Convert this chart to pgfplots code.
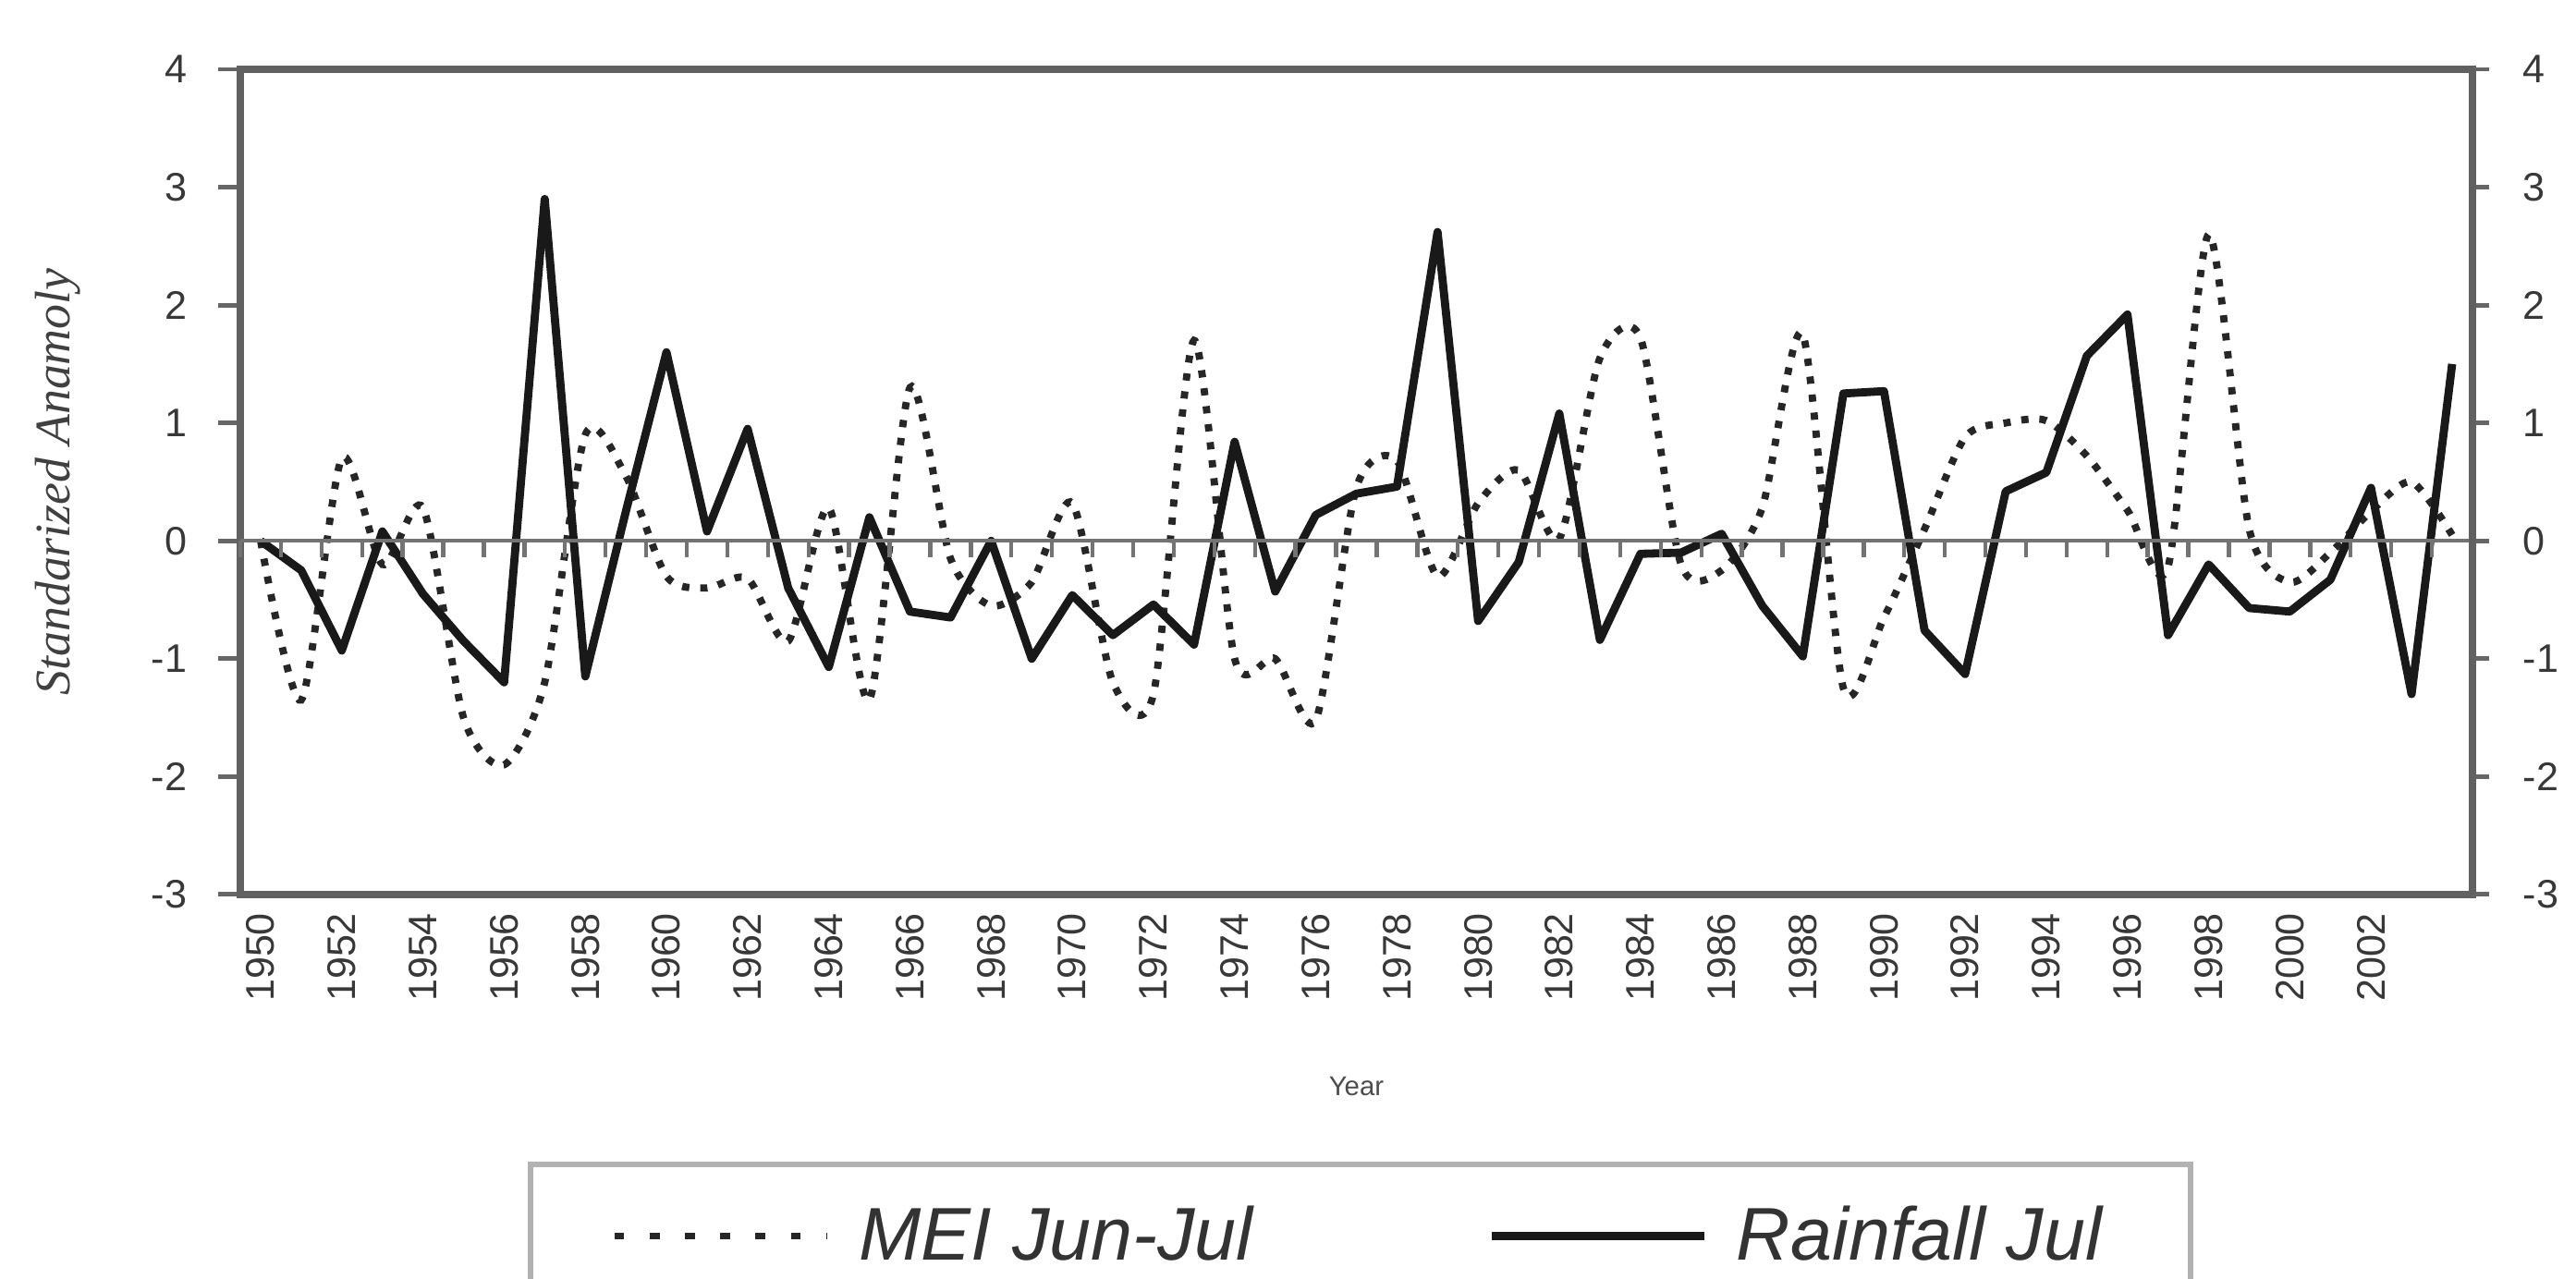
\documentclass[border=0pt]{standalone}
\usepackage{pgfplots}
\pgfplotsset{compat=1.18}
\usepackage{pgfplotstable}
\usepackage{fontspec}
\setmainfont{Liberation Sans}
\newfontfamily\serifit{Liberation Serif}

\pgfplotstableread{
year val
1950 0.0
1951 -1.35
1952 0.70
1953 -0.20
1954 0.28
1955 -1.50
1956 -1.90
1957 -1.20
1958 0.90
1959 0.55
1960 -0.30
1961 -0.40
1962 -0.32
1963 -0.85
1964 0.28
1965 -1.35
1966 1.30
1967 -0.15
1968 -0.55
1969 -0.35
1970 0.32
1971 -1.20
1972 -1.30
1973 1.70
1974 -1.00
1975 -1.00
1976 -1.52
1977 0.45
1978 0.68
1979 -0.30
1980 0.32
1981 0.60
1982 0.02
1983 1.55
1984 1.72
1985 -0.20
1986 -0.25
1987 0.28
1988 1.75
1989 -1.25
1990 -0.65
1991 0.10
1992 0.88
1993 1.00
1994 1.02
1995 0.72
1996 0.26
1997 -0.22
1998 2.60
1999 0.10
2000 -0.35
2001 -0.10
2002 0.25
2003 0.50
2004 0.05
}\mei

\pgfplotstableread{
year val
1950 0.0
1951 -0.25
1952 -0.93
1953 0.08
1954 -0.45
1955 -0.85
1956 -1.20
1957 2.90
1958 -1.15
1959 0.25
1960 1.60
1961 0.08
1962 0.95
1963 -0.40
1964 -1.07
1965 0.20
1966 -0.60
1967 -0.65
1968 0.00
1969 -1.00
1970 -0.46
1971 -0.80
1972 -0.54
1973 -0.88
1974 0.84
1975 -0.43
1976 0.22
1977 0.40
1978 0.46
1979 2.62
1980 -0.68
1981 -0.18
1982 1.08
1983 -0.84
1984 -0.11
1985 -0.10
1986 0.06
1987 -0.55
1988 -0.98
1989 1.25
1990 1.27
1991 -0.76
1992 -1.13
1993 0.42
1994 0.58
1995 1.57
1996 1.92
1997 -0.80
1998 -0.20
1999 -0.57
2000 -0.60
2001 -0.33
2002 0.45
2003 -1.30
2004 1.50
}\rain

\begin{document}
\begin{tikzpicture}
\begin{axis}[
  scale only axis, width=17.33cm, height=6.408cm,
  xmin=1949.5, xmax=2004.5, ymin=-3, ymax=4,
  xtick={1950,1952,...,2002},
  xtick style={draw=none},
  xticklabel shift=-0.15cm,
  xticklabel style={rotate=90, anchor=east, font=\fontsize{8.8}{10}\selectfont, text=black!78},
  ytick={-3,...,4}, ytick pos=left,
  tick align=outside, major tick length=0.17cm,
  ytick style={black!60, line width=1pt},
  yticklabel style={font=\fontsize{8.8}{10}\selectfont, text=black!78, xshift=-0.12cm},
  /pgf/number format/1000 sep={},
  /pgf/number format/assume math mode=true,
  x axis line style={gray!60, line width=1.4pt},
  y axis line style={black!62, line width=1.7pt},
  ylabel={Standarized Anamoly},
  ylabel style={at={(axis description cs:-0.0819,0.5)}, anchor=center,
    font=\serifit\itshape\fontsize{11}{13}\selectfont, text=black!75},
  xlabel={Year},
  xlabel style={at={(axis description cs:0.5,-0.2325)}, anchor=center,
    font=\fontsize{6}{7}\selectfont, text=black!70},
  legend columns=2,
  legend style={at={(0.502,-0.3237)}, anchor=north, draw=gray!60, line width=1.2pt,
    font=\itshape\fontsize{16.5}{19}\selectfont, text=black!80,
    inner xsep=0.62cm, inner ysep=0.25cm,
    /tikz/every odd column/.append style={column sep=0.15cm},
    /tikz/every even column/.append style={column sep=1.75cm}},
  legend image code/.code={\draw[#1] (0cm,0cm) -- (1.65cm,0cm);},
]
\addplot[black!85, line width=1.6pt, dash pattern=on 1.6pt off 2.4pt, smooth, tension=0.45,
  legend image code/.code={\draw[black!85, line width=1.6pt, dash pattern=on 2.2pt off 5.6pt] (0cm,0cm) -- (1.65cm,0cm);}]
  table[x=year, y=val] {\mei};
\addlegendentry{MEI Jun-Jul}
\addplot[black!90, line width=1.8pt, line join=round] table[x=year, y=val] {\rain};
\addlegendentry{Rainfall Jul}
\end{axis}
\begin{axis}[
  scale only axis, width=17.33cm, height=6.408cm,
  xmin=1949.5, xmax=2004.5, ymin=-3, ymax=4,
  axis x line=middle, axis y line*=right,
  xtick={1949.5,1950.5,...,2004.5}, xticklabels={},
  ytick={-3,...,4},
  tick align=outside, major tick length=0.13cm,
  x axis line style={-, black!55, line width=0.9pt},
  y axis line style={-, black!62, line width=1.7pt},
  xtick style={black!55, line width=0.9pt},
  ytick style={black!60, line width=1pt},
  yticklabel style={font=\fontsize{8.8}{10}\selectfont, text=black!78, xshift=0.14cm},
  /pgf/number format/assume math mode=true,
]
\end{axis}
\pgfresetboundingbox
\path (-1.866cm,-2.985cm) rectangle (18.134cm,6.946cm);
\end{tikzpicture}
\end{document}
